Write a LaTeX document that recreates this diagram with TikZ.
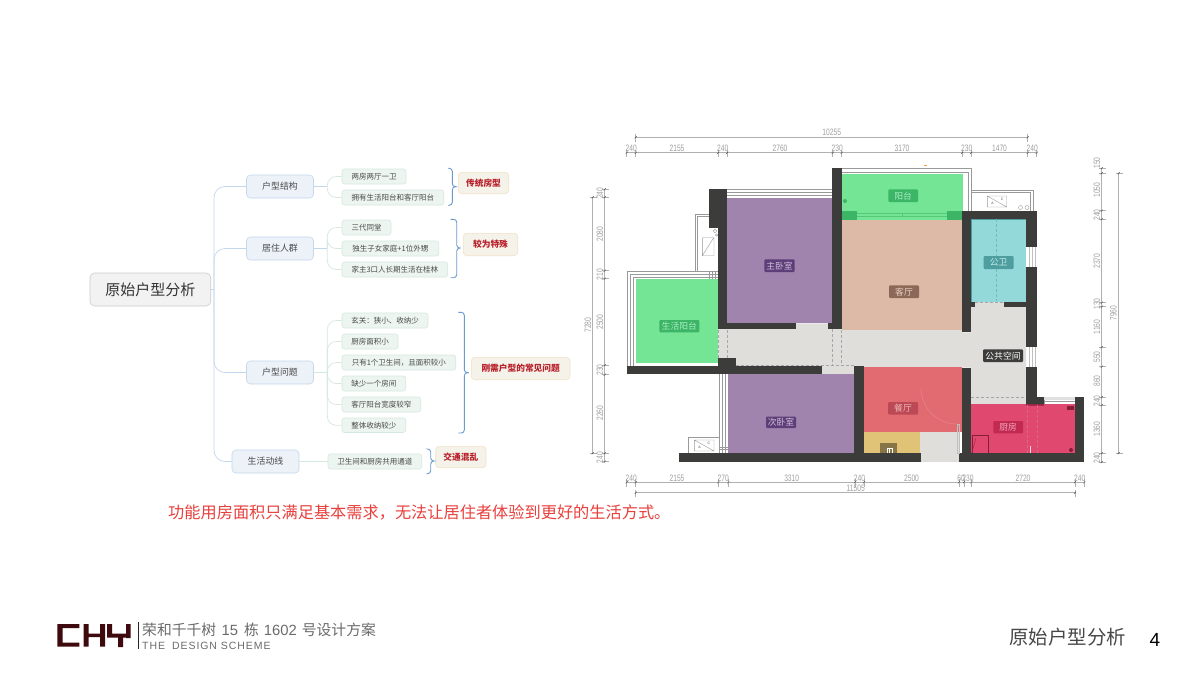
\documentclass[tikz,border=0pt]{standalone}
\usepackage{fontspec}
\setmainfont{Noto Sans CJK SC}
\newfontfamily\latinf{Liberation Sans}
\newfontfamily\dimf[FakeStretch=0.72]{Liberation Sans}
\newfontfamily\spacedf[LetterSpace=9]{Liberation Sans}
\usetikzlibrary{calc}
\definecolor{wallc}{HTML}{3C3C3A}
\definecolor{purp}{HTML}{A084AE}
\definecolor{purpd}{HTML}{5E3E78}
\definecolor{purpt}{HTML}{CDBEDD}
\definecolor{grn}{HTML}{74E595}
\definecolor{grnd}{HTML}{3CB566}
\definecolor{grnt}{HTML}{A8EEC0}
\definecolor{skin}{HTML}{DDBAA8}
\definecolor{skind}{HTML}{8C6858}
\definecolor{skint}{HTML}{E8D0C4}
\definecolor{cyn}{HTML}{94D9D9}
\definecolor{cynd}{HTML}{4E9EA0}
\definecolor{cynt}{HTML}{C4EEEE}
\definecolor{pub}{HTML}{DFDEDB}
\definecolor{din}{HTML}{E26B72}
\definecolor{dind}{HTML}{BC4A56}
\definecolor{dint}{HTML}{F0B4B8}
\definecolor{yel}{HTML}{E1C378}
\definecolor{kit}{HTML}{E0486F}
\definecolor{kitd}{HTML}{C22A52}
\definecolor{kitt}{HTML}{F2A8BC}
\definecolor{maroon}{HTML}{3F0A0E}
\definecolor{dimc}{HTML}{B0B0B0}
\definecolor{dimt}{HTML}{A0A0A0}
\definecolor{branchl}{HTML}{C3D7EC}
\definecolor{leafl}{HTML}{D5E8DE}
\definecolor{txt}{HTML}{4A4A4A}
\definecolor{branchf}{HTML}{EDF2F9}
\definecolor{leaff}{HTML}{EDF5F0}
\definecolor{noted}{HTML}{F0E2C4}
\definecolor{notef}{HTML}{F5F2EA}
\definecolor{noter}{HTML}{B8202A}
\definecolor{braceb}{HTML}{6A9BD0}
\definecolor{sentc}{HTML}{E8403C}
\tikzset{
 rootbox/.style={draw=black!20,fill=black!5,rounded corners=4.5pt,line width=.6pt,font=\fontsize{15}{15}\selectfont,text=black!80},
 branchbox/.style={draw=branchl,fill=branchf,rounded corners=4pt,line width=.6pt,font=\fontsize{8.9}{9}\selectfont,text=txt},
 leafbox/.style={draw=leafl,fill=leaff,rounded corners=2.5pt,line width=.6pt,font=\fontsize{7.5}{8}\selectfont,text=txt},
 notebox/.style={draw=noted,fill=notef,rounded corners=3.5pt,line width=.6pt,font=\fontsize{8.7}{9}\selectfont\bfseries,text=noter},
 trunk/.style={draw=branchl,line width=.7pt,rounded corners=11pt},
 twig/.style={draw=leafl,line width=.7pt,rounded corners=9pt},
 bracel/.style={draw=braceb,line width=.9pt,rounded corners=3pt},
 dimline/.style={draw=dimc,line width=.8pt},
 dimlab/.style={text=dimt,font=\dimf\fontsize{9.3}{10}\selectfont,inner sep=0pt},
 thinl/.style={draw=black!40,line width=.4pt},
 dashl/.style={draw=black!35,line width=.45pt,dash pattern=on 3pt off 2pt},
 roomlab/.style={rounded corners=1pt,font=\fontsize{8.8}{9}\selectfont,inner sep=0pt},
}
\newcommand{\mn}[7]{\pgfmathsetmacro\mw{#5-#3}\pgfmathsetmacro\mh{#6-#4}\node[#2,minimum width=\mw pt,minimum height=\mh pt,inner sep=0pt] (#1) at ({(#3+#5)/2},{(#4+#6)/2}) {#7};}
\newcommand{\bracey}[6]{\draw[bracel] (#1,#2) -- (#3,#2) -- (#3,{#5-0.1}) -- (#4,#5) -- (#3,{#5+0.1}) -- (#3,#6) -- (#1,#6);}
\newcommand{\vtick}[2]{\draw[dimline] (#1,{#2-3}) -- (#1,{#2+4.5}); \draw[black!70,line width=.5pt] ({#1-1},{#2+1}) -- ({#1+1},{#2-1});}
\newcommand{\htick}[2]{\draw[dimline] ({#1-3},#2) -- ({#1+4.5},#2); \draw[black!70,line width=.5pt] ({#1-1},{#2+1}) -- ({#1+1},{#2-1});}
\begin{document}
\begin{tikzpicture}[x=1pt,y=-1pt]
\useasboundingbox (0,0) rectangle (1185,673);
\fill[white] (0,0) rectangle (1185,673);
% ---------- mind map
\mn{root}{rootbox}{90}{273}{210.7}{306}{原始户型分析}
\mn{b1}{branchbox}{246.5}{175}{313.5}{198}{户型结构}
\mn{b2}{branchbox}{246.5}{237}{313.5}{260}{居住人群}
\mn{b3}{branchbox}{246.5}{361}{313.5}{384}{户型问题}
\mn{b4}{branchbox}{232}{450}{299}{473}{生活动线}
\mn{l1}{leafbox}{342}{169}{406}{184}{两房两厅一卫}
\mn{l2}{leafbox}{342}{190}{443.7}{205}{拥有生活阳台和客厅阳台}
\mn{l3}{leafbox}{342}{220}{391}{235}{三代同堂}
\mn{l4}{leafbox}{342}{241}{438.7}{256}{独生子女家庭+1位外甥}
\mn{l5}{leafbox}{342}{262}{447.7}{277}{家主3口人长期生活在桂林}
\mn{l6}{leafbox}{342}{313}{428}{328}{玄关^^^^ff1a狭小、收纳少}
\mn{l7}{leafbox}{342}{334}{398}{349}{厨房面积小}
\mn{l8}{leafbox}{342}{355}{455.7}{370}{只有1个卫生间^^^^ff0c且面积较小}
\mn{l9}{leafbox}{342}{376}{405.7}{391}{缺少一个房间}
\mn{l10}{leafbox}{342}{397}{420.7}{412}{客厅阳台宽度较窄}
\mn{l11}{leafbox}{342}{418}{405.7}{432.5}{整体收纳较少}
\mn{l12}{leafbox}{328}{454}{421.7}{469}{卫生间和厨房共用通道}
\mn{n1}{notebox}{458.3}{172.3}{508.7}{193.7}{传统房型}
\mn{n2}{notebox}{463.3}{233.3}{517.7}{255.7}{较为特殊}
\mn{n3}{notebox}{471.3}{357.3}{570}{379.7}{刚需户型的常见问题}
\mn{n4}{notebox}{435.7}{446.3}{486}{467.7}{交通混乱}
\coordinate (tr) at (214,289.5);
\draw[branchl,line width=.7pt] (root.east) -- (tr);
\foreach \bn in {b1,b2,b3,b4} \draw[trunk] (tr) |- (\bn.west);
\coordinate (t1) at (327.3,186.5);
\draw[branchl,line width=.7pt] (b1.east) -- (t1);
\foreach \ln in {l1,l2} \draw[twig] (t1) |- (\ln.west);
\coordinate (t2) at (327.3,248.5);
\draw[branchl,line width=.7pt] (b2.east) -- (t2);
\foreach \ln in {l3,l4,l5} \draw[twig] (t2) |- (\ln.west);
\coordinate (t3) at (327.3,372.5);
\draw[leafl,line width=.7pt] (b3.east) -- (t3);
\foreach \ln in {l6,l7,l8,l9,l10,l11} \draw[twig] (t3) |- (\ln.west);
\draw[leafl,line width=.7pt] (b4.east) -- (l12.west);
\bracey{448.3}{168.3}{452.3}{457.7}{186.7}{205.3}
\bracey{450.7}{219.3}{456.7}{462.7}{248}{277.7}
\bracey{458.3}{312.3}{464.3}{470.7}{372.7}{433}
\bracey{428}{449}{430.7}{435.3}{461}{473.7}
% ---------- red sentence
\node[anchor=west,inner sep=0pt,text=sentc,font=\fontsize{16.2}{17}\selectfont] (sent) at (168,512) {功能用房面积只满足基本需求^^^^ff0c无法让居住者体验到更好的生活方式。};
% ---------- outside thin lines
\draw[thinl] (626.7,366) -- (626.7,270.7) -- (718.3,270.7);
\draw[thinl] (629.7,366) -- (629.7,273.7) -- (718.3,273.7);
\draw[thinl] (632.7,366) -- (632.7,276.7) -- (718.3,276.7);
\draw[thinl] (695.3,270.7) -- (695.3,214.3) -- (709,214.3);
\draw[thinl] (697,270.7) -- (697,216) -- (709,216);
\draw[thinl] (702.3,237.7) rectangle (714,255.7) (702.3,255.7) -- (713.5,238);
\draw[thinl] (715,231) circle (1.8) (716.5,235) circle (1.2);
\draw[thinl] (709,270.7) -- (709,279) (712,270.7) -- (712,279) (715,270.7) -- (715,279);
\foreach \y in {189.3,192,195} \draw[thinl] (727,\y) -- (832.3,\y);
\foreach \y/\xa in {168.3/971.3,171.7/968} \draw[thinl] (841.7,\y) -- (\xa,\y) -- (\xa,211);
\draw[orange!80,line width=.6pt] (923.5,165) -- (926.5,165);
\draw[thinl] (971.3,189.7) -- (1032.7,189.7) -- (1032.7,210.7);
\draw[thinl] (971.3,192) -- (1029.7,192) -- (1029.7,210.7);
\draw[thinl] (987.3,196) rectangle (1006.7,207) (987.3,196) -- (1006.7,207);
\draw[thinl] (1020.5,207.5) circle (2) (1027,207.5) circle (2);
\node[font=\latinf\fontsize{3.5}{4}\selectfont,text=black!70,inner sep=0pt] (aca) at (992.5,203) {A};
\node[font=\latinf\fontsize{3.5}{4}\selectfont,text=black!70,inner sep=0pt] (acc) at (1002,199) {C};
\draw[thinl] (694.3,440) rectangle (714,451) (694.3,440) -- (714,451);
\draw[thinl] (688.3,452.7) -- (688.3,437.3) -- (719.3,437.3);
\node[font=\latinf\fontsize{3.5}{4}\selectfont,text=black!70,inner sep=0pt] (acb) at (699.5,447) {A};
\node[font=\latinf\fontsize{3.5}{4}\selectfont,text=black!70,inner sep=0pt] (acd) at (709,443) {C};
\foreach \x in {719.3,722,725} \draw[thinl] (\x,374) -- (\x,452.7);
\draw[thinl] (719.3,447) -- (728.3,447) (719.3,449.5) -- (728.3,449.5);
\foreach \y in {1044,1075} \draw[thinl] (\y,397.3) -- (\y,405);
\fill[black!12] (1044,397.3) rectangle (1075,399.5);
\draw[thinl] (1044,401.5) -- (1075,401.5) (1044,404) -- (1075,404);
% ---------- rooms
\fill[pub] (718.3,329) -- (795.7,329) -- (795.7,323.3) -- (832.3,323.3) -- (832.3,329) -- (841.7,329) -- (841.7,330) -- (962,330) -- (962,332.3) -- (971,332.3) -- (971,302) -- (1026,302) -- (1026,405) -- (971,405) -- (971,367.7) -- (864,367.7) -- (864,374) -- (821.7,374) -- (821.7,366) -- (735.7,366) -- (735.7,358.3) -- (718.3,358.3) -- cycle;
\fill[pub] (920,432) rectangle (959,461.7);
\fill[purp] (727.3,198.3) rectangle (832.3,323.3);
\fill[skin] (841.7,219.5) rectangle (962,330);
\fill[grn] (841.7,174) rectangle (963.3,219.5);
\fill[grnd] (841.7,210.7) rectangle (857,219.5);
\fill[grnd] (946.7,210.7) rectangle (963.3,219.5);
\draw[grnd!60!grn,line width=.5pt] (857,213) -- (902,213) -- (902,216.5) -- (946.7,216.5) (857,216.5) -- (902,216.5) (902,213) -- (946.7,213);
\fill[grnd] (845,201) circle (2);
\draw[grnd!60!white,line width=.5pt] (845,207.3) circle (2);
\fill[cyn] (970.7,218.7) rectangle (1026,301.7);
\draw[cynd,line width=1pt] (971.2,301.7) -- (971.2,219.2) -- (1026,219.2);
\fill[grn] (636,279.3) rectangle (718.3,363.3);
\fill[purp] (728.3,374) rectangle (854.3,452.7);
\fill[din] (864,367.3) rectangle (962.3,432);
\fill[yel] (864,432) rectangle (920,453);
\fill[yel!60!black] (880,442.7) rectangle (897,453);
\draw[white,line width=.4pt] (887,448) rectangle (892,453) (889.5,448) -- (889.5,453);
\fill[kit] (970,404.3) rectangle (1075,453);
% ---------- walls
\fill[wallc] (709,189.3) rectangle (727.3,227.7);
\fill[wallc] (718.3,227) rectangle (727.3,329);
\fill[wallc] (718.3,323.3) rectangle (795.7,329);
\fill[wallc] (832.3,168.3) rectangle (841.7,329);
\fill[wallc] (827.7,323.3) rectangle (832.3,329);
\fill[wallc] (962.3,210.7) rectangle (1036.7,218.7);
\fill[wallc] (962.3,210.7) rectangle (970.7,332.3);
\fill[wallc] (1026,210.7) rectangle (1036.7,247.3);
\fill[wallc] (1026,266.7) rectangle (1036.7,347.3);
\fill[wallc] (1026,366.7) rectangle (1036.7,397.3);
\fill[wallc] (1026,397.3) rectangle (1044,405);
\fill[wallc] (970.7,301.7) rectangle (975,307);
\fill[wallc] (1004,301.7) rectangle (1026,306.7);
\fill[wallc] (626.7,366) rectangle (821.7,374);
\fill[wallc] (718.3,358.3) rectangle (735.7,366);
\fill[wallc] (854.3,365.7) rectangle (864,461.7);
\fill[wallc] (679.3,452.7) rectangle (921,461.7);
\fill[wallc] (959,452.7) rectangle (1084.3,461.7);
\fill[wallc] (962.3,367.7) rectangle (971.3,461.7);
\fill[wallc] (1075,397) rectangle (1084.3,461.7);
\foreach \x in {1029,1032,1035} {\draw[black!25,line width=.3pt] (\x,347.3) -- (\x,366.7); \draw[black!25,line width=.3pt] (\x,247.3) -- (\x,266.7);}
% ---------- kitchen overlay on wall
\fill[kitd!85!black,opacity=.85] (1026,404.3) rectangle (1044,405.5);
\draw[kitd!70!black,line width=.4pt] (971.7,453) -- (971.7,435.3) -- (988,435.3) -- (988,453);
\draw[kitd!80!black,line width=.4pt] (971.7,453) -- (976,438);
\draw[kitd!70!white,line width=.4pt,dash pattern=on 3pt off 2pt] (1027,405) -- (1027,453) (1036.7,405) -- (1036.7,453);
\fill[kitd!70!black] (1067,405.5) rectangle (1073.5,410);
\fill[kitd!70!black] (1071,450) circle (2);
\draw[white!80!kit,line width=.5pt] (1030,453) -- (1030,446);
% ---------- dashes and door
\draw[dashl] (718.3,330) -- (718.3,358) (727.3,330) -- (727.3,358);
\draw[dashl] (832.5,329) -- (832.5,365.7) (841.7,330) -- (841.7,365.7);
\draw[dashl] (735.7,365.5) -- (854,365.5);
\draw[dashl] (971.3,397.7) -- (1026,397.7);
\draw[dashl] (975,302.3) -- (1004,302.3);
\draw[cynd!50!cyn,line width=.45pt,dash pattern=on 3pt off 2pt] (996.7,219) -- (996.7,301);
\draw[black!25,line width=.4pt] (957,424) rectangle (959,453);
\draw[din!80!white,line width=.4pt] (957,424) arc[start angle=90,end angle=180,radius=36];
% ---------- room labels
\mn{rm1}{roomlab,fill=purpd,text=purpt}{764.3}{259.3}{794.7}{272}{主卧室}
\mn{rm2}{roomlab,fill=grnd,text=grnt}{888.3}{189.3}{918}{202}{阳台}
\mn{rm3}{roomlab,fill=cynd,text=cynt}{983.7}{256}{1013.7}{269}{公卫}
\mn{rm4}{roomlab,fill=skind,text=skint}{889}{285.3}{919}{298}{客厅}
\mn{rm5}{roomlab,fill=grnd,text=grnt}{659.3}{320}{699.3}{332.3}{生活阳台}
\mn{rm6}{roomlab,fill=purpd,text=purpt}{766}{416.7}{796}{428}{次卧室}
\mn{rm7}{roomlab,fill=wallc,text=white}{983}{349.3}{1023}{362}{公共空间}
\mn{rm8}{roomlab,fill=dind,text=dint}{888}{402}{918}{414.5}{餐厅}
\mn{rm9}{roomlab,fill=kitd,text=kitt}{993.3}{421}{1023}{433.3}{厨房}
% ---------- top dimensions
\draw[dimline] (635.7,137.3) -- (1027.7,137.3);
\vtick{635.7}{137.3}\vtick{1027.7}{137.3}
\node[dimlab] (d0) at (831.7,132) {10255};
\draw[dimline] (626.7,152.7) -- (1036.7,152.7);
\foreach \x in {626.7,635.7,718.3,727.3,832.7,841.7,962.3,971.3,1027.7,1036.7} {\vtick{\x}{152.7}}
\foreach \x/\lb in {631.2/240,677/2155,722.8/240,780/2760,837.2/230,902/3170,966.8/230,999.5/1470,1032.2/240} \node[dimlab] at (\x,148) {\lb};
% ---------- left dimensions
\draw[dimline] (592.7,197.3) -- (592.7,453.3);
\htick{592.7}{197.3}\htick{592.7}{453.3}
\node[dimlab,rotate=90] (d1) at (588,325) {7280};
\draw[dimline] (604.7,189.3) -- (604.7,461.7);
\foreach \y in {189.3,197.3,270.7,278.7,365.3,374.7,453.3,461.7} {\htick{604.7}{\y}}
\foreach \y/\lb in {193.3/240,234/2080,274.7/210,322/2500,370/230,413/2260,457.5/240} \node[dimlab,rotate=90] at (600,\y) {\lb};
% ---------- right dimensions
\draw[dimline] (1101.7,168.3) -- (1101.7,462);
\foreach \y in {168.3,173.3,210.7,219.3,302.7,306.7,347.3,366.7,397.3,405.3,453.3,462} {\htick{1101.7}{\y}}
\foreach \y/\lb in {163/150,190/1050,215/240,261/2370,304/130,327/1160,357/550,381/860,401/240,429/1360,458/240} \node[dimlab,rotate=90] at (1097,\y) {\lb};
\draw[dimline] (1118.7,173.3) -- (1118.7,453.3);
\htick{1118.7}{173.3}\htick{1118.7}{453.3}
\node[dimlab,rotate=90] (d2) at (1113.5,313) {7960};
% ---------- bottom dimensions
\draw[dimline] (626.7,482.3) -- (1084.3,482.3);
\foreach \x in {626.7,635.7,718.3,728.3,855,864,959,964,971.3,1075,1084.3} {\vtick{\x}{482.3}}
\foreach \x/\lb in {631.2/240,677/2155,723.3/270,791.7/3310,859.5/240,911.5/2500,961/60,968/230,1023/2720,1079.7/240} \node[dimlab] at (\x,478) {\lb};
\draw[dimline] (635.7,492.7) -- (1075,492.7);
\vtick{635.7}{492.7}\vtick{1075}{492.7}
\node[dimlab] (d3) at (855.7,488) {11505};
% ---------- footer
\fill[maroon] (57.3,624) rectangle (79.3,628) (57.3,642.7) rectangle (79.3,646.7) (57.3,624) rectangle (62.7,646.7);
\fill[maroon] (83.5,624) rectangle (88.5,646.7) (100,624) rectangle (105,646.7) (88,633.5) rectangle (100,637);
\fill[maroon] (107,624) rectangle (112,637.5) (107,633.5) rectangle (126,637.5) (118,637) rectangle (123,647) (126,624) rectangle (130.7,638);
\draw[black!85,line width=.8pt] (138.7,622) -- (138.7,649);
\node[anchor=west,inner sep=0pt,text=black!58,font=\fontsize{14.8}{15}\selectfont] (ft1) at (142,630) {荣和千千树\hspace{5.5pt}{\latinf 15}\hspace{6pt}栋\hspace{5pt}{\latinf 1602}\hspace{5pt}号设计方案};
\node[anchor=west,inner sep=0pt,text=black!58,font=\spacedf\fontsize{10.5}{11}\selectfont] (ft2) at (142,645.5) {THE\hspace{7pt}DESIGN SCHEME};
\node[anchor=east,inner sep=0pt,text=black!72,font=\fontsize{19.4}{20}\selectfont] (ft3) at (1126,637.5) {原始户型分析};
\node[inner sep=0pt,text=black,font=\latinf\fontsize{19}{20}\selectfont] (ft4) at (1155,639.5) {4};
\end{tikzpicture}
\end{document}
